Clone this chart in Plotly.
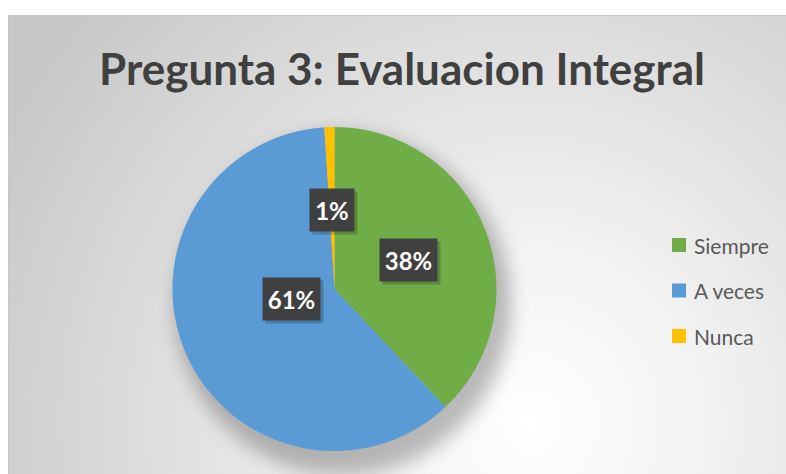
import base64
import math
import plotly.graph_objects as go

# datos
categorias = ['Siempre', 'A veces', 'Nunca']
porcentajes = [38, 61, 1]
colores = ['#70AD47', '#5B9BD5', '#FFC000']
titulo = 'Pregunta 3: Evaluacion Integral'

W, H = 786, 474
# pie geometry in screen pixels
cx_px, cy_px, r_px = 334.5, 289, 162


def px(x):
    return x / W


def py(y):
    return 1 - y / H


# background: radial gradient + soft pie shadow, as svg image
svg = f'''<svg xmlns="http://www.w3.org/2000/svg" width="778" height="459" viewBox="0 0 778 459" preserveAspectRatio="none">
<defs>
<radialGradient id="g" gradientUnits="userSpaceOnUse" cx="510" cy="390" r="580">
<stop offset="0" stop-color="#ffffff"/>
<stop offset="0.3" stop-color="#f2f2f2"/>
<stop offset="1" stop-color="#c8c8c8"/>
</radialGradient>
<filter id="b" x="-50%" y="-50%" width="200%" height="200%"><feGaussianBlur stdDeviation="9"/></filter>
</defs>
<rect width="778" height="459" fill="url(#g)"/>
<circle cx="{cx_px - 8}" cy="{cy_px - 15 + 3}" r="{r_px + 2}" fill="#000" fill-opacity="0.26" filter="url(#b)"/>
</svg>'''
src = 'data:image/svg+xml;base64,' + base64.b64encode(svg.encode()).decode()

fig = go.Figure()
fig.add_trace(go.Pie(
    labels=categorias, values=porcentajes, sort=False,
    direction='clockwise', rotation=0,
    marker=dict(colors=colores, line=dict(width=0)),
    textinfo='none', hoverinfo='label+percent', showlegend=False,
    domain=dict(x=[px(cx_px - r_px), px(cx_px + r_px)],
                y=[py(cy_px + r_px), py(cy_px - r_px)]),
))

annotations = [dict(text=titulo, x=px(402), y=py(68), xref='paper', yref='paper',
                    showarrow=False, xanchor='center', yanchor='middle',
                    font=dict(family='Lato', size=44, color='#404040', weight='bold'))]
shapes = [dict(type='rect', xref='paper', yref='paper', x0=px(8.5), x1=px(W + 20),
               y0=py(H + 20), y1=py(15.5), line=dict(color='#c6c6c6', width=1),
               layer='above')]

# data labels at half radius, mid angle of each slice
total = sum(porcentajes)
acum = 0
for v in porcentajes:
    theta = 2 * math.pi * (acum + v / 2) / total
    acum += v
    lx = cx_px + 0.49 * r_px * math.sin(theta)
    ly = cy_px - 0.49 * r_px * math.cos(theta)
    txt = f'{round(100 * v / total)}%'
    w = 10 + 13 * len(txt)
    # shadow box
    annotations.append(dict(text=' ', x=px(lx), y=py(ly), xref='paper', yref='paper',
                            showarrow=False, width=w, height=34, borderpad=4,
                            xshift=3, yshift=-3, bgcolor='rgba(0,0,0,0.2)',
                            font=dict(family='Lato', size=24)))
    annotations.append(dict(text=f'<b>{txt}</b>', x=px(lx), y=py(ly), xref='paper', yref='paper',
                            showarrow=False, width=w, height=34, borderpad=4,
                            bgcolor='#404040',
                            font=dict(family='Lato', size=24, color='white')))

# legend
for i, (cat, col) in enumerate(zip(categorias, colores)):
    yc = 245 + i * 45.5
    shapes.append(dict(type='rect', xref='paper', yref='paper',
                       x0=px(672), x1=px(686), y0=py(yc + 7), y1=py(yc - 7),
                       fillcolor=col, line=dict(width=0)))
    annotations.append(dict(text=cat, x=px(692), y=py(yc), xref='paper', yref='paper',
                            showarrow=False, xanchor='left', yanchor='middle',
                            font=dict(family='Lato', size=21, color='#595959')))

fig.update_layout(
    width=W, height=H, margin=dict(l=0, r=0, t=0, b=0),
    paper_bgcolor='white', plot_bgcolor='rgba(0,0,0,0)',
    images=[dict(source=src, xref='paper', yref='paper', x=px(8), y=py(15),
                 sizex=(W - 8 + 20) / W, sizey=(H - 15 + 20) / H, sizing='stretch',
                 xanchor='left', yanchor='top', layer='below')],
    annotations=annotations, shapes=shapes,
)

# no page margin so the figure sits at the window origin
fig.write_html('out.html', config={'displayModeBar': False},
               post_script="document.body.style.margin='0';")
